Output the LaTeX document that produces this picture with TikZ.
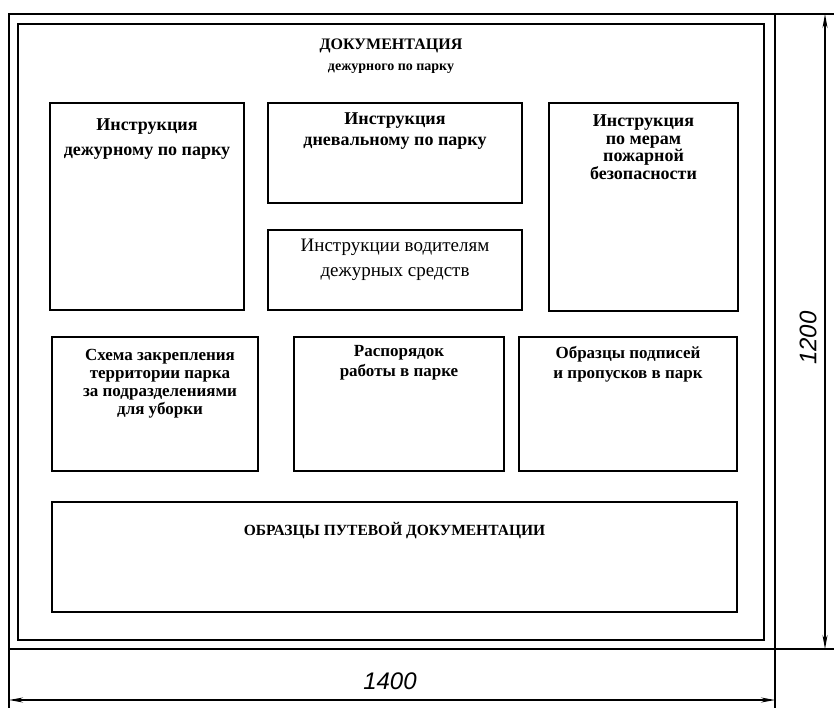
\documentclass[tikz,border=0pt]{standalone}
\usepackage{fontspec}
\setmainfont{Liberation Serif}
\newfontfamily\dimfont{Liberation Sans}
\usetikzlibrary{positioning,arrows.meta}

\tikzset{
  docbox/.style={draw, line width=2pt, inner sep=0pt},
  boxtext/.style={align=center, inner sep=0pt, font=\bfseries\fontsize{18}{22}\selectfont},
  lowtext/.style={align=center, inner sep=0pt, font=\bfseries\fontsize{17}{18}\selectfont},
  frameline/.style={line width=2.2pt},
  extline/.style={line width=1.4pt},
  dimline/.style={line width=1.1pt, {Stealth[length=14pt,width=5pt]}-{Stealth[length=14pt,width=5pt]}},
  dimtext/.style={font=\dimfont\itshape\fontsize{24}{24}\selectfont, inner sep=0pt}
}

\begin{document}
\begin{tikzpicture}[x=1pt,y=-1pt]
  \useasboundingbox (0,0) rectangle (834,708);

  % frames of the board
  \draw [frameline] (9,14) rectangle (775,649);
  \draw [frameline] (18,24) rectangle (764,640);

  \node (title) at (391,46) [inner sep=0pt, font=\bfseries\fontsize{16}{16}\selectfont] {ДОКУМЕНТАЦИЯ};
  \node (subtitle) at (391,69) [inner sep=0pt, font=\bfseries\fontsize{14}{14}\selectfont] {дежурного по парку};

  % upper row
  \node (duty) at (147,206.5) [docbox, minimum width=194pt, minimum height=207pt] {};
  \node (dutyT) [boxtext, below=17pt of duty.north, font=\bfseries\fontsize{18}{25}\selectfont] {Инструкция\\дежурному по парку};

  \node (orderly) at (395,153) [docbox, minimum width=254pt, minimum height=100pt] {};
  \node (orderlyT) [boxtext, below=11pt of orderly.north, font=\bfseries\fontsize{18}{21}\selectfont] {Инструкция\\дневальному по парку};

  \node (drivers) at (395,270) [docbox, minimum width=254pt, minimum height=80pt] {};
  \node (driversT) [boxtext, below=10pt of drivers.north, font=\fontsize{19}{25}\selectfont] {Инструкции водителям\\дежурных средств};

  \node (fire) at (643.5,207) [docbox, minimum width=189pt, minimum height=208pt] {};
  \node (fireT) [boxtext, below=13pt of fire.north, font=\bfseries\fontsize{18}{17.5}\selectfont] {Инструкция\\по мерам\\пожарной\\безопасности};

  % lower row
  \node (scheme) at (155,404) [docbox, minimum width=206pt, minimum height=134pt] {};
  \node (schemeT) [lowtext, below=13pt of scheme.north, xshift=5pt] {Схема закрепления\\территории парка\\за подразделениями\\для уборки};

  \node (routine) at (399,404) [docbox, minimum width=210pt, minimum height=134pt] {};
  \node (routineT) [lowtext, below=9pt of routine.north, font=\bfseries\fontsize{17}{20}\selectfont] {Распорядок\\работы в парке};

  \node (samples) at (628,404) [docbox, minimum width=218pt, minimum height=134pt] {};
  \node (samplesT) [lowtext, below=10pt of samples.north, font=\bfseries\fontsize{17}{20}\selectfont] {Образцы подписей\\и пропусков в парк};

  \node (route) at (394.5,557) [docbox, minimum width=685pt, minimum height=110pt] {};
  \node (routeT) [lowtext, below=21pt of route.north, font=\bfseries\fontsize{15.5}{15.5}\selectfont] {ОБРАЗЦЫ ПУТЕВОЙ ДОКУМЕНТАЦИИ};

  % dimensions
  \coordinate (vTop) at (825,14);
  \coordinate (vBot) at (825,649);
  \coordinate (hLeft) at (9,700);
  \coordinate (hRight) at (775,700);
  \draw [extline] (775,14) -- (834,14);
  \draw [extline] (775,649) -- (834,649);
  \draw [extline] (9,649) -- (9,708);
  \draw [extline] (775,649) -- (775,708);
  \draw [dimline] (vTop) -- (vBot);
  \draw [dimline] (hLeft) -- (hRight);
  \node (height) at (808,338) [dimtext, rotate=90] {1200};
  \node (width) at (390,681) [dimtext] {1400};
\end{tikzpicture}
\end{document}
